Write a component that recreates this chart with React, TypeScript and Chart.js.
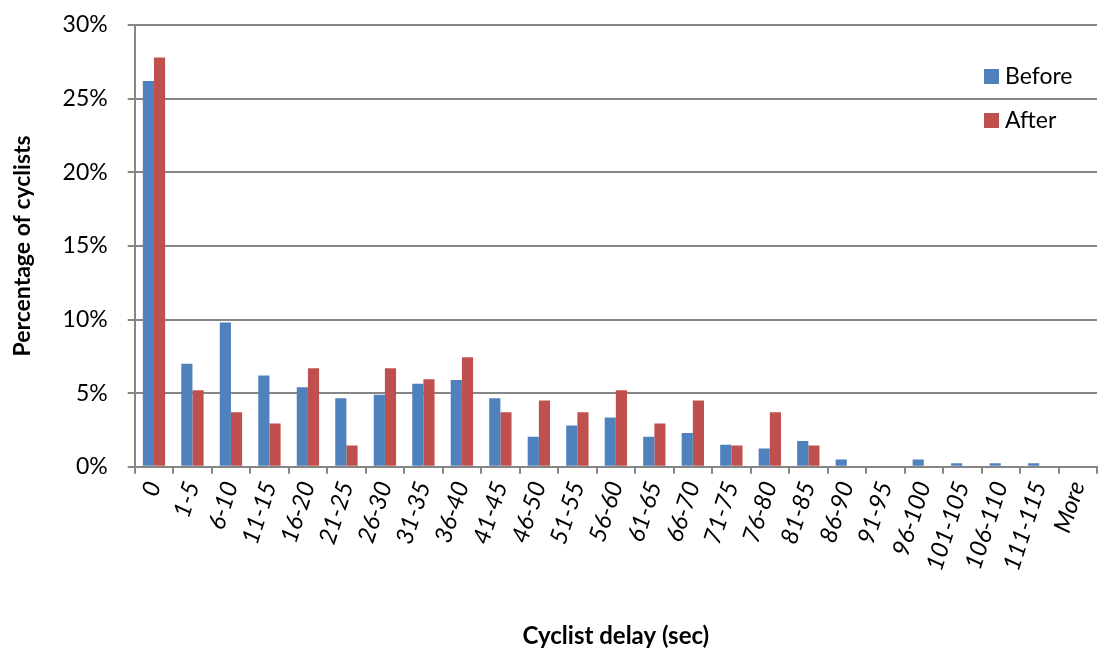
import React, { useEffect, useRef } from "react";
import { Chart, registerables } from "chart.js";

Chart.register(...registerables);

const categories = ["0", "1-5", "6-10", "11-15", "16-20", "21-25", "26-30", "31-35", "36-40", "41-45", "46-50", "51-55", "56-60", "61-65", "66-70", "71-75", "76-80", "81-85", "86-90", "91-95", "96-100", "101-105", "106-110", "111-115", "More"];
const beforeValues = [26.2, 7.0, 9.8, 6.2, 5.4, 4.65, 4.9, 5.65, 5.9, 4.65, 2.05, 2.8, 3.35, 2.05, 2.3, 1.5, 1.25, 1.75, 0.5, 0, 0.5, 0.25, 0.25, 0.25, 0];
const afterValues = [27.8, 5.2, 3.7, 2.95, 6.7, 1.45, 6.7, 5.95, 7.45, 3.7, 4.5, 3.7, 5.2, 2.95, 4.5, 1.45, 3.7, 1.45, 0, 0, 0, 0, 0, 0, 0];
const yTicks = [0, 5, 10, 15, 20, 25, 30];
const seriesNames = ["Before", "After"];
const seriesColors = ["#4F81BD", "#C0504D"];

const FONT = "Lato, 'Open Sans', sans-serif";

const legendPlugin = {
  id: "insideLegend",
  afterDraw(chart: any) {
    const { ctx, chartArea } = chart;
    ctx.save();
    const x = chartArea.right - 113;
    let y = chartArea.top + 51;
    chart.data.datasets.forEach((ds: any) => {
      ctx.fillStyle = ds.backgroundColor;
      ctx.fillRect(x, y - 7, 15, 15);
      ctx.fillStyle = "#000";
      ctx.font = `23px ${FONT}`;
      ctx.textBaseline = "middle";
      ctx.textAlign = "left";
      ctx.fillText(ds.label, x + 21, y + 1);
      y += 44;
    });
    ctx.restore();
  },
};

export default function App() {
  const ref = useRef<HTMLCanvasElement>(null);
  useEffect(() => {
    document.body.style.margin = "0";
    const chart = new Chart(ref.current!, {
      type: "bar",
      data: {
        labels: categories,
        datasets: [
          { label: seriesNames[0], data: beforeValues, backgroundColor: seriesColors[0], barPercentage: 1, categoryPercentage: 0.58 },
          { label: seriesNames[1], data: afterValues, backgroundColor: seriesColors[1], barPercentage: 1, categoryPercentage: 0.58 },
        ],
      },
      options: {
        animation: false,
        responsive: false,
        maintainAspectRatio: false,
        layout: { padding: { top: 25, right: 7, left: 9, bottom: 0 } },
        plugins: {
          legend: { display: false },
          tooltip: { enabled: false },
        },
        scales: {
          x: {
            afterFit: (axis: any) => {
              axis.paddingRight = 0;
              axis.paddingLeft = 0;
            },
            grid: { display: true, drawOnChartArea: false, drawTicks: true, tickLength: 7, offset: true, color: "#868686", lineWidth: 2 },
            border: { display: true, color: "#868686", width: 2 },
            ticks: {
              color: "#000",
              font: { family: FONT, size: 24, style: "italic" },
              maxRotation: 72,
              minRotation: 72,
              autoSkip: false,
              padding: 4,
            },
            title: {
              display: true,
              text: "Cyclist delay (sec)",
              color: "#000",
              font: { family: FONT, size: 24, weight: "bold" },
              padding: { top: 44, bottom: 0 },
            },
          },
          y: {
            min: 0,
            max: 30,
            afterBuildTicks: (axis: any) => {
              axis.ticks = yTicks.map((v) => ({ value: v }));
            },
            afterFit: (axis: any) => {
              axis.paddingTop = 0;
              axis.paddingBottom = 0;
            },
            grid: { color: "#868686", lineWidth: 2, tickLength: 7 },
            border: { display: true, color: "#868686", width: 2 },
            ticks: {
              color: "#000",
              font: { family: FONT, size: 23 },
              padding: 20,
              callback: (v: any) => v + "%",
            },
            title: {
              display: true,
              text: "Percentage of cyclists",
              color: "#000",
              font: { family: FONT, size: 23, weight: "bold" },
              padding: { top: 0, bottom: 6 },
            },
          },
        },
      },
      plugins: [legendPlugin],
    });
    return () => chart.destroy();
  }, []);
  return <canvas ref={ref} width={1104} height={651} style={{ display: "block" }} />;
}
